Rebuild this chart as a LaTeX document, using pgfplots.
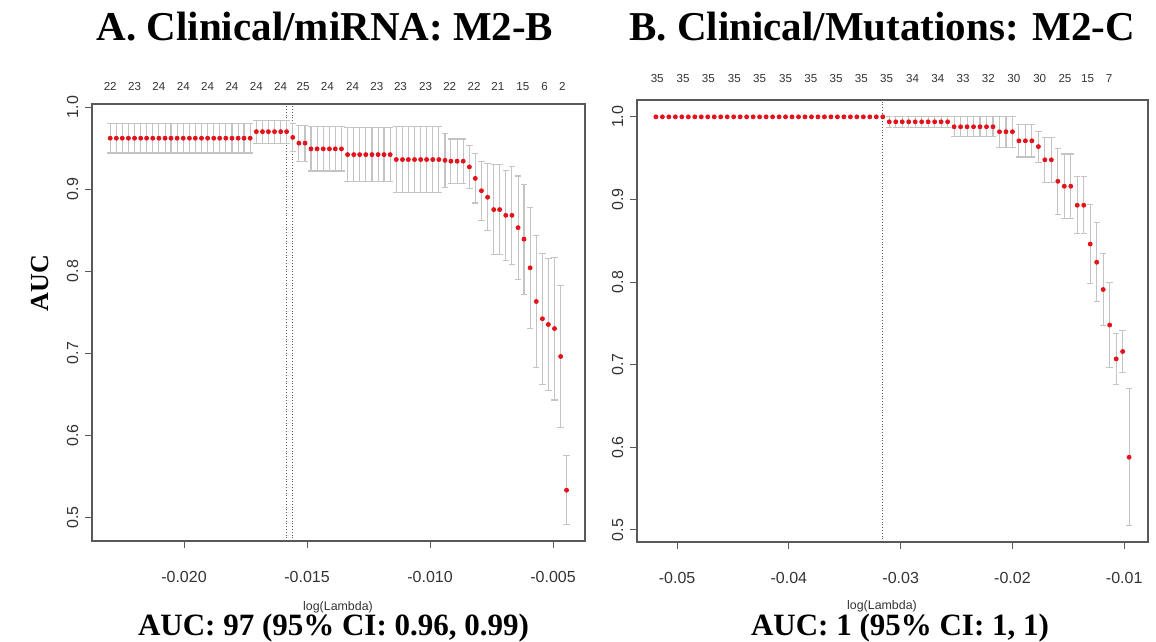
\documentclass[border=0pt]{standalone}
\usepackage{fontspec}
\setmainfont{Liberation Serif}
\setsansfont{Liberation Sans}
\usepackage{pgfplots}
\usepackage{pgfplotstable}
\pgfplotsset{compat=1.18}

\definecolor{ptred}{HTML}{E3121B}
\definecolor{barcol}{HTML}{C4C4C4}
\definecolor{framecol}{HTML}{595959}
\definecolor{labcol}{HTML}{333333}

% log(lambda), mean AUC, half width of the error bar
\pgfplotstableread{
x y e
-0.02300 0.962 0.018
-0.02275 0.962 0.018
-0.02251 0.962 0.018
-0.02226 0.962 0.018
-0.02201 0.962 0.018
-0.02176 0.962 0.018
-0.02152 0.962 0.018
-0.02127 0.962 0.018
-0.02102 0.962 0.018
-0.02077 0.962 0.018
-0.02053 0.962 0.018
-0.02028 0.962 0.018
-0.02003 0.962 0.018
-0.01978 0.962 0.018
-0.01954 0.962 0.018
-0.01929 0.962 0.018
-0.01904 0.962 0.018
-0.01879 0.962 0.018
-0.01855 0.962 0.018
-0.01830 0.962 0.018
-0.01805 0.962 0.018
-0.01780 0.962 0.018
-0.01756 0.962 0.018
-0.01731 0.962 0.018
-0.01706 0.970 0.014
-0.01681 0.970 0.014
-0.01657 0.970 0.014
-0.01632 0.970 0.014
-0.01607 0.970 0.014
-0.01583 0.970 0.014
-0.01558 0.963 0.017
-0.01533 0.956 0.022
-0.01508 0.956 0.022
-0.01484 0.949 0.027
-0.01459 0.949 0.027
-0.01434 0.949 0.027
-0.01409 0.949 0.027
-0.01385 0.949 0.027
-0.01360 0.949 0.027
-0.01335 0.942 0.033
-0.01310 0.942 0.033
-0.01286 0.942 0.033
-0.01261 0.942 0.033
-0.01236 0.942 0.033
-0.01211 0.942 0.033
-0.01187 0.942 0.033
-0.01162 0.942 0.033
-0.01137 0.936 0.040
-0.01112 0.936 0.040
-0.01088 0.936 0.040
-0.01063 0.936 0.040
-0.01038 0.936 0.040
-0.01014 0.936 0.040
-0.00989 0.936 0.040
-0.00964 0.936 0.040
-0.00939 0.935 0.033
-0.00915 0.934 0.027
-0.00890 0.934 0.027
-0.00865 0.934 0.027
-0.00840 0.927 0.026
-0.00816 0.913 0.030
-0.00791 0.898 0.036
-0.00766 0.890 0.041
-0.00741 0.875 0.055
-0.00717 0.875 0.055
-0.00692 0.868 0.055
-0.00667 0.868 0.060
-0.00642 0.853 0.063
-0.00618 0.839 0.067
-0.00593 0.804 0.074
-0.00568 0.763 0.080
-0.00543 0.742 0.080
-0.00519 0.735 0.080
-0.00494 0.730 0.087
-0.00469 0.696 0.087
-0.00445 0.533 0.042
}\mirna

\pgfplotstableread{
x y e
-0.05190 1.000 0
-0.05132 1.000 0
-0.05074 1.000 0
-0.05016 1.000 0
-0.04958 1.000 0
-0.04900 1.000 0
-0.04842 1.000 0
-0.04784 1.000 0
-0.04726 1.000 0
-0.04668 1.000 0
-0.04610 1.000 0
-0.04552 1.000 0
-0.04494 1.000 0
-0.04436 1.000 0
-0.04378 1.000 0
-0.04320 1.000 0
-0.04262 1.000 0
-0.04204 1.000 0
-0.04146 1.000 0
-0.04088 1.000 0
-0.04030 1.000 0
-0.03972 1.000 0
-0.03914 1.000 0
-0.03856 1.000 0
-0.03798 1.000 0
-0.03740 1.000 0
-0.03682 1.000 0
-0.03624 1.000 0
-0.03566 1.000 0
-0.03508 1.000 0
-0.03450 1.000 0
-0.03392 1.000 0
-0.03334 1.000 0
-0.03276 1.000 0
-0.03218 1.000 0
-0.03160 1.000 0
-0.03102 0.994 0.0064
-0.03044 0.994 0.0064
-0.02986 0.994 0.0064
-0.02928 0.994 0.0064
-0.02870 0.994 0.0064
-0.02812 0.994 0.0064
-0.02754 0.994 0.0064
-0.02696 0.994 0.0064
-0.02638 0.994 0.0064
-0.02580 0.994 0.0064
-0.02522 0.988 0.0122
-0.02464 0.988 0.0122
-0.02406 0.988 0.0122
-0.02348 0.988 0.0122
-0.02290 0.988 0.0122
-0.02232 0.988 0.0122
-0.02174 0.988 0.0122
-0.02116 0.982 0.0186
-0.02058 0.982 0.0186
-0.02000 0.982 0.0186
-0.01942 0.971 0.0196
-0.01884 0.971 0.0196
-0.01826 0.971 0.0196
-0.01768 0.964 0.0188
-0.01710 0.948 0.0272
-0.01652 0.948 0.0272
-0.01594 0.922 0.0400
-0.01536 0.916 0.0390
-0.01478 0.916 0.0390
-0.01420 0.893 0.0346
-0.01362 0.893 0.0346
-0.01304 0.846 0.0476
-0.01246 0.824 0.0476
-0.01188 0.791 0.0434
-0.01130 0.748 0.0510
-0.01072 0.707 0.0306
-0.01014 0.716 0.0254
-0.00956 0.588 0.0828
}\mutations

\pgfplotsset{
  cvplot/.style={
    scale only axis,
    anchor=south west,
    scaled x ticks=false,
    axis line style={framecol, line width=0.6pt},
    tick style={framecol, line width=0.5pt},
    tick align=outside,
    major tick length=3.3pt,
    xtick pos=left, ytick pos=left,
    ytick={0.5,0.6,0.7,0.8,0.9,1.0},
    yticklabels={0.5,0.6,0.7,0.8,0.9,1.0},
    tick label style={font=\sffamily\fontsize{8}{9}\selectfont, text=labcol},
    xticklabel style={yshift=-8.5pt},
    yticklabel style={rotate=90, anchor=south},
  },
  toplabels/.style={
    scale only axis,
    anchor=south west,
    scaled x ticks=false,
    axis x line*=top,
    hide y axis,
    x axis line style={draw=none},
    major tick length=0pt,
    xticklabel style={font=\sffamily\fontsize{5.8}{7}\selectfont, text=labcol, yshift=3pt},
  },
  cvbars/.style={draw=none, mark=none,
    error bars/.cd, y dir=both, y explicit,
    error mark=-,
    error bar style={draw=barcol, line width=0.55pt},
    error mark options={rotate=90, draw=barcol, mark size=1.6pt, line width=0.55pt},
    /pgfplots/.cd},
  cvdots/.style={only marks, color=ptred, mark=*, mark size=1.0pt,
    mark options={draw=ptred, fill=ptred}},
}

\begin{document}
\begin{tikzpicture}
\path[use as bounding box] (0,0) rectangle (578pt,321pt);

% ---- A: Clinical/miRNA ----
\begin{axis}[cvplot,
  at={(46pt,50.5pt)}, width=246.5pt, height=218.5pt,
  xmin=-0.02374, xmax=-0.00370, ymin=0.4711, ymax=1.0037,
  xtick={-0.020,-0.015,-0.010,-0.005},
  xticklabels={-0.020,-0.015,-0.010,-0.005}]
\addplot[densely dotted, framecol, line width=0.4pt] coordinates {(-0.01583,0.4711) (-0.01583,1.0037)};
\addplot[densely dotted, framecol, line width=0.4pt] coordinates {(-0.01558,0.4711) (-0.01558,1.0037)};
\addplot[cvbars] table[x=x, y=y, y error=e] {\mirna};
\addplot[cvdots] table[x=x, y=y] {\mirna};
\end{axis}
\begin{axis}[toplabels,
  at={(46pt,50.5pt)}, width=246.5pt, height=218.5pt,
  xmin=-0.02374, xmax=-0.00370, ymin=0.4711, ymax=1.0037,
  xtick={-0.02300,-0.02201,-0.02102,-0.02003,-0.01904,-0.01805,-0.01706,-0.01607,-0.01516,-0.01417,-0.01315,-0.01216,-0.01120,-0.01018,-0.00920,-0.00821,-0.00724,-0.00623,-0.00534,-0.00462},
  xticklabels={22,23,24,24,24,24,24,24,25,24,24,23,23,23,22,22,21,15,6,2}]
\end{axis}

% ---- B: Clinical/Mutations ----
\begin{axis}[cvplot,
  at={(318.5pt,50pt)}, width=255.5pt, height=221pt,
  xmin=-0.05359, xmax=-0.00787, ymin=0.4854, ymax=1.0204,
  xtick={-0.05,-0.04,-0.03,-0.02,-0.01},
  xticklabels={-0.05,-0.04,-0.03,-0.02,-0.01}]
\addplot[densely dotted, framecol, line width=0.4pt] coordinates {(-0.0316,0.4854) (-0.0316,1.0204)};
\addplot[skip coords between index={0}{36}, cvbars] table[x=x, y=y, y error=e] {\mutations};
\addplot[cvdots] table[x=x, y=y] {\mutations};
\end{axis}
\begin{axis}[toplabels,
  at={(318.5pt,50pt)}, width=255.5pt, height=221pt,
  xmin=-0.05359, xmax=-0.00787, ymin=0.4854, ymax=1.0204,
  xticklabel style={yshift=2pt},
  xtick={-0.05178,-0.04946,-0.04720,-0.04488,-0.04262,-0.04030,-0.03804,-0.03578,-0.03351,-0.03125,-0.02893,-0.02667,-0.02441,-0.02215,-0.01988,-0.01756,-0.01530,-0.01327,-0.01136},
  xticklabels={35,35,35,35,35,35,35,35,35,35,34,34,33,32,30,30,25,15,7}]
\end{axis}

% titles and captions
\node[font=\bfseries\fontsize{20.5}{24}\selectfont] at (162.5pt,307.5pt) {A. Clinical/miRNA: M2-B};
\node[font=\bfseries\fontsize{20.5}{24}\selectfont] at (441pt,307.5pt) {B. Clinical/Mutations: M2-C};
\node[font=\bfseries\fontsize{13}{15}\selectfont, rotate=90] at (20pt,179.5pt) {AUC};
\node[font=\sffamily\fontsize{6.2}{7}\selectfont, text=labcol] at (169pt,17.5pt) {log(Lambda)};
\node[font=\sffamily\fontsize{6.2}{7}\selectfont, text=labcol] at (441pt,18pt) {log(Lambda)};
\node[font=\bfseries\fontsize{15.5}{18}\selectfont] at (166.75pt,7pt) {AUC: 97 (95\% CI: 0.96, 0.99)};
\node[font=\bfseries\fontsize{15.5}{18}\selectfont] at (450pt,7pt) {AUC: 1 (95\% CI: 1, 1)};
\end{tikzpicture}
\end{document}
